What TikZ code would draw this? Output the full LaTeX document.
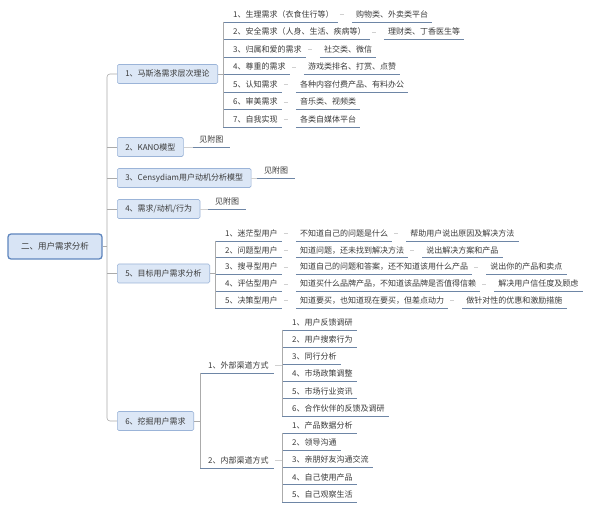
\documentclass[tikz,border=0pt]{standalone}
\usepackage{fontspec}
\newfontfamily\cjk{Noto Sans CJK SC}
\definecolor{txt}{HTML}{3A3A3A}
\definecolor{boxfill}{HTML}{DCE7F6}
\definecolor{boxline}{HTML}{9BB4D8}
\definecolor{rootfill}{HTML}{D8E4F5}
\definecolor{rootline}{HTML}{5F86BE}
\definecolor{ulcol}{HTML}{6E86A6}
\definecolor{conncol}{HTML}{ABABAB}
\definecolor{sepcol}{HTML}{D0D0D0}
\begin{document}
\begin{tikzpicture}[x=1pt,y=-1pt,
  every node/.style={font=\cjk\fontsize{8}{9}\selectfont, text=txt},
  lbox/.style={draw=boxline, fill=boxfill, rounded corners=1.5pt, inner xsep=8pt, minimum height=19pt, anchor=west, line width=0.6pt},
  rootbox/.style={draw=rootline, fill=rootfill, rounded corners=3pt, line width=1.3pt, minimum width=94pt, minimum height=25pt, font=\cjk\fontsize{8.5}{10}\selectfont},
  leaf/.style={anchor=south west, inner xsep=4pt, inner ysep=3pt, text height=6.5pt, text depth=1.5pt},
  refleaf/.style={leaf, inner xsep=6.5pt},
  uline/.style={draw=ulcol, line width=0.9pt},
  conn/.style={draw=conncol, line width=0.6pt},
  sepmark/.style={draw=sepcol, line width=0.7pt}
]
\fill[white] (0,0) rectangle (600,510);
\useasboundingbox (0,0) rectangle (600,510);

% root and level-1 boxes
\node[rootbox] (root) at (55,246.5) {二、用户需求分析};
\node[lbox] (b1) at (117,74) {1、马斯洛需求层次理论};
\node[lbox] (b2) at (117,147) {2、KANO模型};
\node[lbox] (b3) at (117,178) {3、Censydiam用户动机分析模型};
\node[lbox] (b4) at (117,209) {4、需求/动机/行为};
\node[lbox] (b5) at (117,273.5) {5、目标用户需求分析};
\node[lbox] (b6) at (117,421) {6、挖掘用户需求};

% trunk
\coordinate (tr) at (107,0);
\draw[conn] (root.east) -- (root.east -| tr);
\draw[conn, rounded corners=3pt] (b1.west) -- (b1.west -| tr) -- (b6.west -| tr) -- (b6.west);
\foreach \b in {b2,b3,b4,b5}{\draw[conn] (\b.west -| tr) -- (\b.west);}

% see-figure leaves
\node[refleaf] (k2) at ([xshift=9pt]b2.east) {见附图};
\node[refleaf] (k3) at ([xshift=6pt]b3.east) {见附图};
\node[refleaf] (k4) at ([xshift=8pt]b4.east) {见附图};
\foreach \b/\k in {b2/k2,b3/k3,b4/k4}{
  \draw[uline] (\k.south west) -- (\k.south east);
  \draw[sepmark] (\b.east) -- (\k.south west);
}

% Maslow
\foreach \a/\c [count=\i] in {1、生理需求（衣食住行等）/购物类、外卖类平台,
  2、安全需求（人身、生活、疾病等）/理财类、丁香医生等,
  3、归属和爱的需求/社交类、微信,
  4、尊重的需求/游戏类排名、打赏、点赞,
  5、认知需求/各种内容付费产品、有料办公,
  6、审美需求/音乐类、视频类,
  7、自我实现/各类自媒体平台}{
  \pgfmathsetmacro\yy{22+17.5*(\i-1)}
  \node[leaf] (ma\i) at (229,\yy) {\a};
  \draw[uline] ([xshift=-6pt]ma\i.south west) -- (ma\i.south east);
  \node[leaf] (mb\i) at ([xshift=14pt]ma\i.south east) {\c};
  \draw[uline] (mb\i.south west) -- (mb\i.south east);
  \draw[sepmark] ([xshift=2pt]ma\i.east) -- ([xshift=6pt]ma\i.east);
}
\coordinate (mv) at ([xshift=-6pt]ma1.south west);
\draw[conn] (mv) -- ([xshift=-6pt]ma7.south west);
\draw[conn] (b1.east) -- (b1.east -| mv);

% target users
\foreach \a/\c/\d [count=\i] in {1、迷茫型用户/不知道自己的问题是什么/帮助用户说出原因及解决方法,
  2、问题型用户/知道问题，还未找到解决方法/说出解决方案和产品,
  3、搜寻型用户/知道自己的问题和答案，还不知道该用什么产品/说出你的产品和卖点,
  4、评估型用户/知道买什么品牌产品，不知道该品牌是否值得信赖/解决用户信任度及顾虑,
  5、决策型用户/知道要买，也知道现在要买，但差点动力/做针对性的优惠和激励措施}{
  \pgfmathsetmacro\yy{241+16.75*(\i-1)}
  \node[leaf] (ta\i) at (221,\yy) {\a};
  \draw[uline] ([xshift=-6pt]ta\i.south west) -- (ta\i.south east);
  \node[leaf] (tb\i) at ([xshift=14pt]ta\i.south east) {\c};
  \draw[uline] (tb\i.south west) -- (tb\i.south east);
  \node[leaf] (tc\i) at ([xshift=14pt]tb\i.south east) {\d};
  \draw[uline] (tc\i.south west) -- (tc\i.south east);
  \draw[sepmark] ([xshift=2pt]ta\i.east) -- ([xshift=6pt]ta\i.east);
  \draw[sepmark] ([xshift=2pt]tb\i.east) -- ([xshift=6pt]tb\i.east);
}
\coordinate (tv) at ([xshift=-6pt]ta1.south west);
\draw[conn] (tv) -- ([xshift=-6pt]ta5.south west);
\draw[conn] (b5.east) -- (b5.east -| tv);

% mining
\node[leaf, inner xsep=5pt] (ext) at (203,373) {1、外部渠道方式};
\node[leaf, inner xsep=5pt] (int) at (203,468) {2、内部渠道方式};
\coordinate (xv) at ([xshift=-3pt]ext.south west);
\draw[uline] (xv) -- (ext.south east);
\draw[uline] ([xshift=-3pt]int.south west) -- (int.south east);
\draw[conn] (xv) -- ([xshift=-3pt]int.south west);
\draw[conn] (b6.east) -- (b6.east -| xv);

\foreach \a [count=\i] in {1、用户反馈调研,2、用户搜索行为,3、同行分析,4、市场政策调整,5、市场行业资讯,6、合作伙伴的反馈及调研}{
  \pgfmathsetmacro\yy{330+17.2*(\i-1)}
  \node[leaf] (ea\i) at (288,\yy) {\a};
  \draw[uline] ([xshift=-6pt]ea\i.south west) -- (ea\i.south east);
}
\coordinate (ev) at ([xshift=-6pt]ea1.south west);
\draw[conn] (ev) -- ([xshift=-6pt]ea6.south west);
\draw[sepmark] ([xshift=1pt]ext.east) -- (ext.east -| ev);

\foreach \a [count=\i] in {1、产品数据分析,2、领导沟通,3、亲朋好友沟通交流,4、自己使用产品,5、自己观察生活}{
  \pgfmathsetmacro\yy{433+17.25*(\i-1)}
  \node[leaf] (ia\i) at (288,\yy) {\a};
  \draw[uline] ([xshift=-6pt]ia\i.south west) -- (ia\i.south east);
}
\coordinate (iv) at ([xshift=-6pt]ia1.south west);
\draw[conn] (iv) -- ([xshift=-6pt]ia5.south west);
\draw[sepmark] ([xshift=1pt]int.east) -- (int.east -| iv);
\end{tikzpicture}
\end{document}
